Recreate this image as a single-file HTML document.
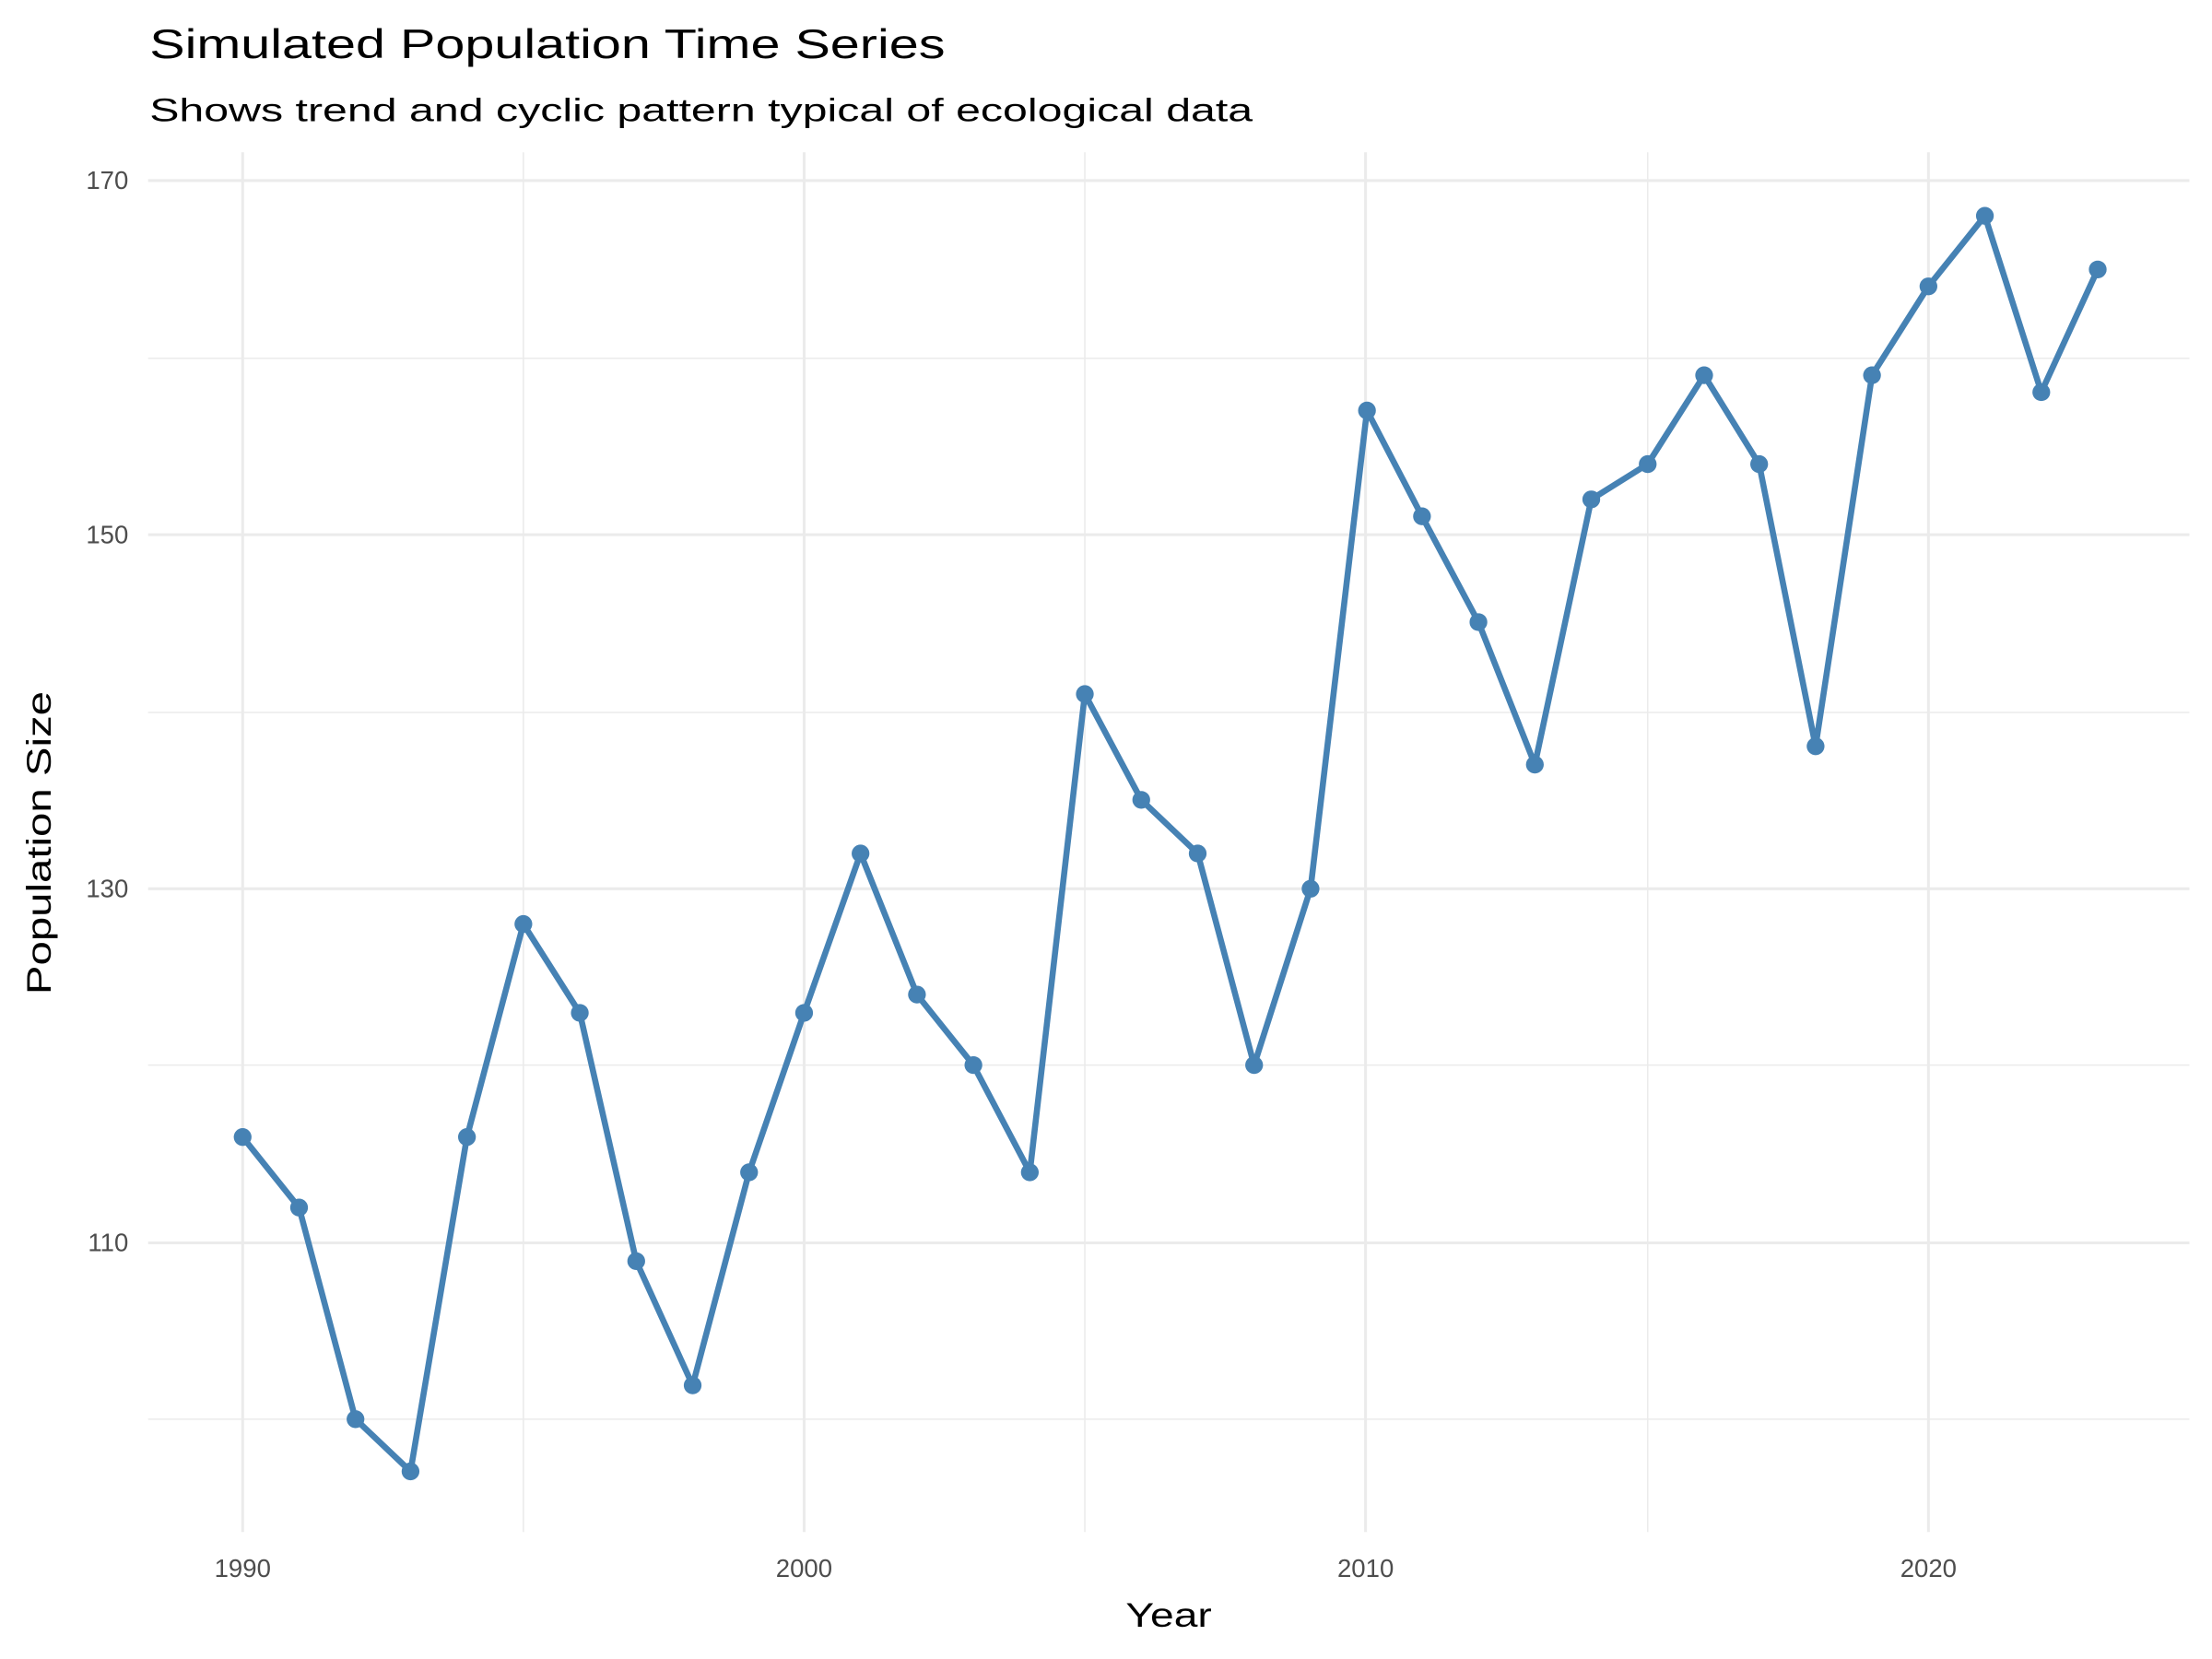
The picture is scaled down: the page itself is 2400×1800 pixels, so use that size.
<!DOCTYPE html>
<html><head><meta charset="utf-8"><style>html,body{margin:0;padding:0;background:#fff}svg{display:block}</style></head>
<body>
<svg width="2400" height="1800" viewBox="0 0 1568 1176" xmlns="http://www.w3.org/2000/svg" font-family="'Liberation Sans', 'DejaVu Sans', sans-serif">
<rect width="1568" height="1176" fill="#fff"/>
<g stroke="#ebebeb" stroke-width="1">
<line x1="105" x2="1552" y1="254" y2="254"/><line x1="105" x2="1552" y1="505" y2="505"/><line x1="105" x2="1552" y1="755" y2="755"/><line x1="105" x2="1552" y1="1006" y2="1006"/>
<line x1="371" x2="371" y1="108" y2="1086"/><line x1="769" x2="769" y1="108" y2="1086"/><line x1="1168" x2="1168" y1="108" y2="1086"/>
</g>
<g stroke="#ebebeb" stroke-width="2">
<line x1="105" x2="1552" y1="128" y2="128"/><line x1="105" x2="1552" y1="379" y2="379"/><line x1="105" x2="1552" y1="630" y2="630"/><line x1="105" x2="1552" y1="881" y2="881"/>
<line x1="172" x2="172" y1="108" y2="1086"/><line x1="570" x2="570" y1="108" y2="1086"/><line x1="968" x2="968" y1="108" y2="1086"/><line x1="1367" x2="1367" y1="108" y2="1086"/>
</g>
<polyline fill="none" stroke="#4682B4" stroke-width="4.3" stroke-linejoin="round" points="172,806 212,856 252,1006 291,1043 331,806 371,655 411,718 451,894 491,982 531,831 570,718 610,605 650,705 690,755 730,831 769,492 809,567 849,605 889,755 929,630 969,291 1008,366 1048,441 1088,542 1128,354 1168,329 1208,266 1247,329 1287,529 1327,266 1367,203 1407,153 1447,278 1487,191"/>
<g fill="#4682B4">
<circle cx="172" cy="806" r="6.3"/><circle cx="212" cy="856" r="6.3"/><circle cx="252" cy="1006" r="6.3"/><circle cx="291" cy="1043" r="6.3"/><circle cx="331" cy="806" r="6.3"/><circle cx="371" cy="655" r="6.3"/><circle cx="411" cy="718" r="6.3"/><circle cx="451" cy="894" r="6.3"/><circle cx="491" cy="982" r="6.3"/><circle cx="531" cy="831" r="6.3"/><circle cx="570" cy="718" r="6.3"/><circle cx="610" cy="605" r="6.3"/><circle cx="650" cy="705" r="6.3"/><circle cx="690" cy="755" r="6.3"/><circle cx="730" cy="831" r="6.3"/><circle cx="769" cy="492" r="6.3"/><circle cx="809" cy="567" r="6.3"/><circle cx="849" cy="605" r="6.3"/><circle cx="889" cy="755" r="6.3"/><circle cx="929" cy="630" r="6.3"/><circle cx="969" cy="291" r="6.3"/><circle cx="1008" cy="366" r="6.3"/><circle cx="1048" cy="441" r="6.3"/><circle cx="1088" cy="542" r="6.3"/><circle cx="1128" cy="354" r="6.3"/><circle cx="1168" cy="329" r="6.3"/><circle cx="1208" cy="266" r="6.3"/><circle cx="1247" cy="329" r="6.3"/><circle cx="1287" cy="529" r="6.3"/><circle cx="1327" cy="266" r="6.3"/><circle cx="1367" cy="203" r="6.3"/><circle cx="1407" cy="153" r="6.3"/><circle cx="1447" cy="278" r="6.3"/><circle cx="1487" cy="191" r="6.3"/>
</g>
<g font-size="18" fill="#4d4d4d" text-anchor="end">
<text x="91" y="134">170</text><text x="91" y="385">150</text><text x="91" y="636">130</text><text x="91" y="887">110</text>
</g>
<g font-size="18" fill="#4d4d4d" text-anchor="middle">
<text x="172" y="1118">1990</text><text x="570" y="1118">2000</text><text x="968" y="1118">2010</text><text x="1367" y="1118">2020</text>
</g>
<text x="798" y="1153" font-size="24" textLength="61" lengthAdjust="spacingAndGlyphs" fill="#000">Year</text>
<text transform="translate(36,705) rotate(-90)" font-size="24" textLength="215" lengthAdjust="spacingAndGlyphs" fill="#000">Population Size</text>
<text x="106" y="41" font-size="29" textLength="564" lengthAdjust="spacingAndGlyphs" fill="#000">Simulated Population Time Series</text>
<text x="106" y="86" font-size="23" textLength="782" lengthAdjust="spacingAndGlyphs" fill="#000">Shows trend and cyclic pattern typical of ecological data</text>
</svg>
</body></html>
